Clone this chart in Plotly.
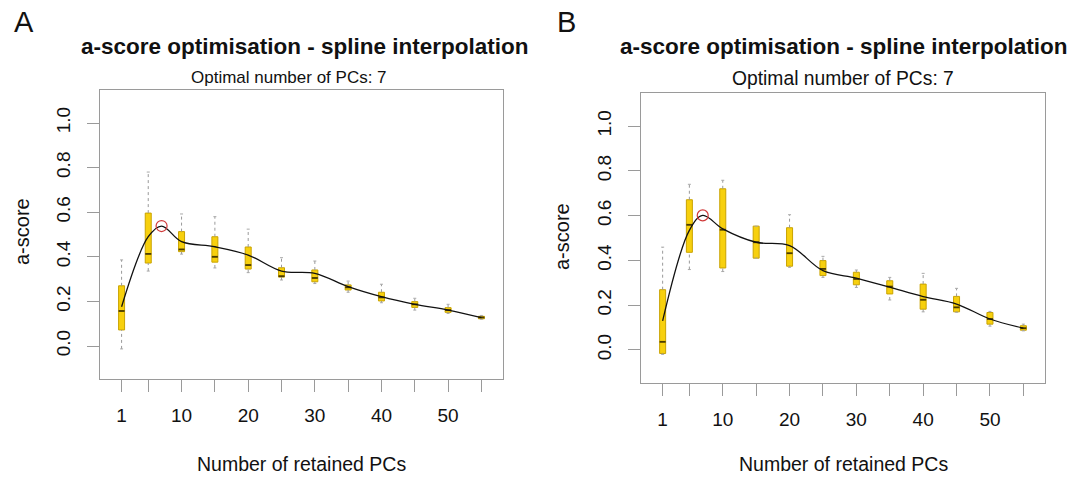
import plotly.graph_objects as go

# Number of retained PCs at which the a-score was evaluated
pcs = [1, 5, 10, 15, 20, 25, 30, 35, 40, 45, 50, 55]
tick_text = ["1", "", "10", "", "20", "", "30", "", "40", "", "50", ""]
y_ticks = [0.0, 0.2, 0.4, 0.6, 0.8, 1.0]
y_tick_text = ["0.0", "0.2", "0.4", "0.6", "0.8", "1.0"]

# Panel A: a-score distributions (whisker low, Q1, median, Q3, whisker high)
a_wlo = [-0.013, 0.336, 0.412, 0.350, 0.329, 0.296, 0.280, 0.241, 0.194, 0.161, 0.146, 0.120]
a_q1 = [0.072, 0.372, 0.423, 0.376, 0.345, 0.309, 0.288, 0.251, 0.202, 0.173, 0.151, 0.122]
a_med = [0.157, 0.413, 0.433, 0.400, 0.363, 0.313, 0.305, 0.263, 0.218, 0.187, 0.161, 0.128]
a_q3 = [0.270, 0.596, 0.513, 0.490, 0.444, 0.351, 0.341, 0.274, 0.241, 0.199, 0.172, 0.133]
a_whi = [0.386, 0.780, 0.592, 0.580, 0.524, 0.396, 0.381, 0.291, 0.277, 0.214, 0.187, 0.137]
# Panel A: spline knots (including the optimum at 7 PCs)
a_spline_x = [1, 5, 7, 10, 15, 20, 25, 30, 35, 40, 45, 50, 55]
a_spline_y = [0.176, 0.490, 0.538, 0.468, 0.445, 0.408, 0.336, 0.326, 0.266, 0.221, 0.187, 0.161, 0.127]
a_opt_x, a_opt_y = 7, 0.538

# Panel B
b_wlo = [-0.020, 0.359, 0.350, 0.410, 0.369, 0.324, 0.279, 0.223, 0.170, 0.168, 0.106, 0.085]
b_q1 = [-0.016, 0.436, 0.366, 0.410, 0.374, 0.332, 0.291, 0.250, 0.182, 0.170, 0.115, 0.088]
b_med = [0.036, 0.559, 0.537, 0.481, 0.432, 0.362, 0.317, 0.283, 0.224, 0.190, 0.138, 0.097]
b_q3 = [0.269, 0.671, 0.720, 0.553, 0.546, 0.399, 0.347, 0.309, 0.294, 0.239, 0.167, 0.108]
b_whi = [0.459, 0.740, 0.758, 0.553, 0.604, 0.418, 0.357, 0.324, 0.342, 0.275, 0.172, 0.115]
b_spline_x = [1, 5, 7, 10, 15, 20, 25, 30, 35, 40, 45, 50, 55]
b_spline_y = [0.130, 0.534, 0.601, 0.541, 0.481, 0.466, 0.354, 0.321, 0.280, 0.238, 0.205, 0.138, 0.097]
b_opt_x, b_opt_y = 7, 0.601

W, H = 1082, 480
FONT = "Liberation Sans, Arial, Helvetica, sans-serif"
FRAME = "#9a9a9a"
BOX_W = 0.9

fig = go.Figure()


def add_panel(xa, ya, wlo, q1, med, q3, whi, sx, sy, ox, oy):
    # dotted whiskers with small staples
    wx, wy, stx, sty = [], [], [], []
    for x, lo, b1, b3, hi in zip(pcs, wlo, q1, q3, whi):
        wx += [x, x, None, x, x, None]
        wy += [lo, b1, None, b3, hi, None]
        stx += [x - BOX_W * 0.25, x + BOX_W * 0.25, None, x - BOX_W * 0.25, x + BOX_W * 0.25, None]
        sty += [lo, lo, None, hi, hi, None]
    fig.add_trace(go.Scatter(x=wx, y=wy, mode="lines", xaxis=xa, yaxis=ya,
                             line=dict(color="#9a9a9a", width=1, dash="dot"),
                             hoverinfo="skip", showlegend=False))
    fig.add_trace(go.Scatter(x=stx, y=sty, mode="lines", xaxis=xa, yaxis=ya,
                             line=dict(color="#a8a8a8", width=1),
                             hoverinfo="skip", showlegend=False))
    fig.add_trace(go.Box(x=pcs, q1=q1, median=med, q3=q3, lowerfence=q1, upperfence=q3,
                         width=BOX_W, whiskerwidth=0, xaxis=xa, yaxis=ya,
                         fillcolor="#F7D00E", line=dict(color="#C9A300", width=1),
                         boxpoints=False, showlegend=False))
    mx, my = [], []
    for x, m in zip(pcs, med):
        mx += [x - BOX_W / 2, x + BOX_W / 2, None]
        my += [m, m, None]
    fig.add_trace(go.Scatter(x=mx, y=my, mode="lines", xaxis=xa, yaxis=ya,
                             line=dict(color="#4a3c00", width=1.8),
                             hoverinfo="skip", showlegend=False))
    fig.add_trace(go.Scatter(x=sx, y=sy, mode="lines", xaxis=xa, yaxis=ya,
                             line=dict(color="#111111", width=1.3, shape="spline", smoothing=1.0),
                             hoverinfo="skip", showlegend=False))
    fig.add_trace(go.Scatter(x=[ox], y=[oy], mode="markers", xaxis=xa, yaxis=ya,
                             marker=dict(symbol="circle-open", size=11, color="#D03A3A",
                                         line=dict(width=1.2, color="#D03A3A")),
                             hoverinfo="skip", showlegend=False))


add_panel("x", "y", a_wlo, a_q1, a_med, a_q3, a_whi, a_spline_x, a_spline_y, a_opt_x, a_opt_y)
add_panel("x2", "y2", b_wlo, b_q1, b_med, b_q3, b_whi, b_spline_x, b_spline_y, b_opt_x, b_opt_y)


def xaxis(domain, anchor, standoff):
    return dict(domain=domain, anchor=anchor, range=[-2.24, 58.24],
                tickmode="array", tickvals=pcs, ticktext=tick_text,
                ticks="outside", ticklen=12, tickwidth=1, tickcolor=FRAME,
                showline=True, mirror=True, linecolor=FRAME, linewidth=1,
                showgrid=False, zeroline=False, ticklabelstandoff=standoff,
                tickfont=dict(family=FONT, size=19, color="#111111"))


def yaxis(domain, anchor, standoff):
    return dict(domain=domain, anchor=anchor, range=[-0.148, 1.148],
                tickmode="array", tickvals=y_ticks, ticktext=y_tick_text, tickangle=-90,
                ticks="outside", ticklen=12, tickwidth=1, tickcolor=FRAME,
                showline=True, mirror=True, linecolor=FRAME, linewidth=1,
                showgrid=False, zeroline=False, ticklabelstandoff=standoff,
                tickfont=dict(family=FONT, size=19, color="#111111"))


def py(p):
    return 1 - p / H


def px(p):
    return p / W


annots = []
for letter, lx in (("A", 24), ("B", 566)):
    annots.append(dict(text=letter, x=px(lx), y=py(22), xref="paper", yref="paper",
                       showarrow=False, xanchor="center", yanchor="middle",
                       font=dict(family=FONT, size=29, color="#111111")))
for cx, sub_x, sub_size, sub_y in ((305, 289, 17, 77), (844, 843, 19.3, 79)):
    annots.append(dict(text="<b>a-score optimisation - spline interpolation</b>",
                       x=px(cx), y=py(46), xref="paper", yref="paper", showarrow=False,
                       xanchor="center", yanchor="middle",
                       font=dict(family=FONT, size=22.5, color="#111111")))
    annots.append(dict(text="Optimal number of PCs: 7", x=px(sub_x), y=py(sub_y),
                       xref="paper", yref="paper", showarrow=False,
                       xanchor="center", yanchor="middle",
                       font=dict(family=FONT, size=sub_size, color="#111111")))
for cx in (301, 843):
    annots.append(dict(text="Number of retained PCs", x=px(cx), y=py(464), xref="paper",
                       yref="paper", showarrow=False, xanchor="center", yanchor="middle",
                       font=dict(family=FONT, size=19.5, color="#111111")))
for cx, cy in ((22, 232), (562, 237)):
    annots.append(dict(text="a-score", x=px(cx), y=py(cy), xref="paper", yref="paper",
                       showarrow=False, xanchor="center", yanchor="middle", textangle=-90,
                       font=dict(family=FONT, size=20, color="#111111")))

fig.update_layout(
    width=W, height=H,
    margin=dict(l=0, r=0, t=0, b=0),
    paper_bgcolor="white", plot_bgcolor="white",
    xaxis=xaxis([px(100), px(503)], "y", 7),
    yaxis=yaxis([py(379), py(90)], "x", 9),
    xaxis2=xaxis([px(641), px(1045)], "y2", 7),
    yaxis2=yaxis([py(383), py(93)], "x2", 9),
    annotations=annots,
    showlegend=False,
)

fig.write_html("out.html")
